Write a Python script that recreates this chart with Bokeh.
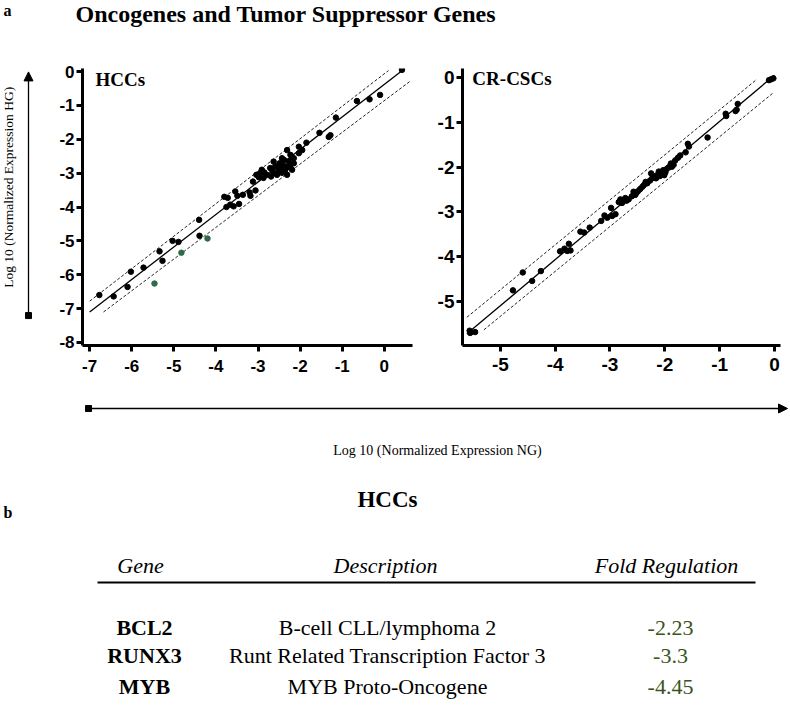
import math
from bokeh.plotting import figure
from bokeh.models import Range1d, FixedTicker, Arrow, NormalHead
from bokeh.layouts import column, row
from bokeh.embed import file_html
from bokeh.resources import INLINE
from bokeh.core.properties import value

# ---------------- data ----------------
# HCCs: log10 normalized expression, NG (x) vs HG (y)
hcc_ng = [-6.77, -6.43, -6.10, -6.02, -5.72, -5.34, -5.27, -5.03, -4.89, -4.40,
          -4.39, -3.80, -3.72, -3.75, -3.66, -3.58, -3.54, -3.49, -3.45, -3.36,
          -3.20, -3.18, -3.06, -3.12, -3.04, -2.98, -2.94, -2.91, -2.87, -2.79,
          -2.85, -2.69, -2.67, -2.63, -2.59, -2.55, -2.51, -2.49, -2.47, -2.43,
          -2.39, -2.38, -2.35, -2.31, -2.30, -2.27, -2.23, -2.19, -2.15, -2.43,
          -2.31, -2.23, -2.19, -2.15, -2.71, -2.63, -2.03, -1.95, -2.03, -1.85,
          -1.54, -1.32, -1.28, -1.15, -0.65, -0.35, -0.10, 0.42]
hcc_hg = [-6.60, -6.64, -6.36, -5.91, -5.79, -5.31, -5.59, -5.00, -5.03, -4.38,
          -4.85, -3.70, -3.73, -4.00, -3.93, -3.98, -3.54, -3.67, -3.91, -3.64,
          -3.57, -3.67, -3.51, -3.25, -3.05, -3.12, -2.99, -2.90, -3.14, -3.05,
          -2.98, -3.10, -2.90, -2.99, -2.80, -3.05, -2.90, -2.71, -2.85, -2.99,
          -2.78, -2.61, -2.90, -3.05, -2.82, -2.66, -2.76, -2.90, -2.71, -2.56,
          -2.32, -2.46, -2.53, -2.56, -2.85, -2.66, -2.22, -2.32, -2.41, -2.10,
          -1.81, -1.93, -1.88, -1.36, -0.87, -0.82, -0.69, 0.05]
# down-regulated genes highlighted in green
hcc_down_ng = [-5.46, -4.82, -4.20]
hcc_down_hg = [-6.26, -5.35, -4.93]
# identity line and fold-change boundaries
hcc_mid_x = [-7.00, 0.45]
hcc_mid_y = [-7.10, 0.05]
hcc_up_x = [-7.00, 0.10]
hcc_up_y = [-6.78, 0.03]
hcc_lo_x = [-6.67, 0.62]
hcc_lo_y = [-7.10, -0.28]

# CR-CSCs
csc_ng = [-5.56, -5.55, -5.46, -4.77, -4.59, -4.42, -4.26, -3.91, -3.83, -3.78,
          -3.75, -3.72, -3.54, -3.47, -3.37, -3.16, -3.10, -3.05, -2.98, -2.96,
          -2.90, -2.81, -2.78, -2.72, -2.66, -2.60, -2.54, -2.49, -2.45, -2.38,
          -2.32, -2.27, -2.23, -2.25, -2.19, -2.14, -2.11, -2.07, -2.03, -2.01,
          -1.97, -1.93, -1.89, -1.87, -1.81, -1.76, -1.72, -1.62, -1.58, -1.56,
          -1.22, -0.89, -0.88, -0.71, -0.69, -0.67, -0.10, -0.06, -0.02, -2.84,
          -2.70, -2.52, -2.41, -2.16, -2.09, -1.99, -1.84, -2.57, -2.35]
csc_hg = [-5.65, -5.70, -5.68, -4.75, -4.35, -4.54, -4.32, -3.88, -3.82, -3.87,
          -3.71, -3.86, -3.44, -3.46, -3.35, -3.20, -3.08, -3.13, -2.91, -3.09,
          -3.05, -2.72, -2.80, -2.69, -2.72, -2.65, -2.62, -2.54, -2.49, -2.40,
          -2.36, -2.30, -2.25, -2.14, -2.21, -2.18, -2.10, -2.14, -2.07, -2.18,
          -2.05, -2.01, -1.92, -1.99, -1.85, -1.79, -1.74, -1.67, -1.48, -1.54,
          -1.34, -0.81, -0.86, -0.75, -0.72, -0.59, -0.06, -0.04, -0.02, -2.78,
          -2.75, -2.58, -2.44, -2.25, -2.20, -2.12, -1.95, -2.55, -2.33]
csc_mid_x = [-5.61, 0.00]
csc_mid_y = [-5.72, 0.05]
csc_up_x = [-5.61, -0.32]
csc_up_y = [-5.35, -0.04]
csc_lo_x = [-5.30, -0.01]
csc_lo_y = [-5.63, -0.33]

hcc_xticks = [-7, -6, -5, -4, -3, -2, -1, 0]
hcc_yticks = [-8, -7, -6, -5, -4, -3, -2, -1, 0]
csc_xticks = [-5, -4, -3, -2, -1, 0]
csc_yticks = [-6, -5, -4, -3, -2, -1, 0]

# table
genes = ["BCL2", "RUNX3", "MYB"]
descriptions = ["B-cell CLL/lymphoma 2", "Runt Related Transcription Factor 3",
                "MYB Proto-Oncogene"]
fold_regulation = ["-2.23", "-3.3", "-4.45"]

SERIF = value("Liberation Serif")
W = 788


def canvas(w, h, x0, x1, ytop, ybot):
    c = figure(width=w, height=h, x_range=Range1d(x0, x1),
               y_range=Range1d(-ybot, -ytop), x_axis_type=None, y_axis_type=None,
               output_backend="svg", toolbar_location=None, min_border=0)
    c.outline_line_color = None
    c.grid.visible = False
    return c


def style_axes(p, fs, xstand, ystand, xt, yt):
    p.xaxis.ticker = FixedTicker(ticks=xt)
    p.yaxis.ticker = FixedTicker(ticks=yt)
    p.xaxis.major_label_overrides = {t: str(t) for t in xt}
    p.yaxis.major_label_overrides = {t: str(t) for t in yt}
    for ax in (p.xaxis[0], p.yaxis[0]):
        ax.axis_line_width = 3
        ax.axis_line_color = "black"
        ax.major_tick_line_width = 3
        ax.major_tick_line_color = "black"
        ax.major_tick_out = 6
        ax.major_tick_in = 0
        ax.minor_tick_line_color = None
        ax.major_label_text_font = "Liberation Sans"
        ax.major_label_text_font_style = "bold"
        ax.major_label_text_font_size = fs
        ax.major_label_text_color = "black"
    p.xaxis.major_label_standoff = xstand
    p.yaxis.major_label_standoff = ystand
    p.grid.visible = False
    p.outline_line_color = None


# ---------- title row ----------
title = canvas(W, 58, 0, W, 0, 58)
title.text(x=[3], y=[-10], text=["a"], text_font=SERIF, text_font_style="bold",
           text_font_size="16px", text_baseline="middle", text_align="left")
title.text(x=[75], y=[-13], text=["Oncogenes and Tumor Suppressor Genes"],
           text_font=SERIF, text_font_style="bold", text_font_size="24px",
           text_baseline="middle", text_align="left")

# ---------- y arrow strip ----------
strip = canvas(50, 324, 0, 50, 58, 382)
strip.text(x=[8], y=[-197], text=["Log 10 (Normalized Expression HG)"],
           angle=math.pi / 2, text_font=SERIF, text_font_size="13.5px",
           text_baseline="middle", text_align="center")
strip.add_layout(Arrow(x_start=28, y_start=-347, x_end=28, y_end=-62,
                       line_width=1.3, start=None,
                       end=NormalHead(size=9, fill_color="black", line_color="black")))
strip.scatter([28], [-347], marker="square", size=6, color="black")

# ---------- HCC scatter ----------
pl = figure(width=370, height=324, x_range=Range1d(-7.17, 0.67),
            y_range=Range1d(-8.09, 0.09), output_backend="svg", toolbar_location=None,
            min_border_left=32, min_border_right=8, min_border_top=10,
            min_border_bottom=35)
style_axes(pl, "17px", 8, 2, hcc_xticks, hcc_yticks)
pl.line(hcc_up_x, hcc_up_y, line_color="#222222", line_width=1, line_dash="3 2")
pl.line(hcc_lo_x, hcc_lo_y, line_color="#222222", line_width=1, line_dash="3 2")
pl.line(hcc_mid_x, hcc_mid_y, line_color="black", line_width=1.3)
pl.scatter(hcc_ng, hcc_hg, size=5.5, color="black")
pl.scatter(hcc_down_ng, hcc_down_hg, size=5.5, color="#2f6b47")
pl.text(x=[-6.86], y=[-0.23], text=["HCCs"], text_font=SERIF, text_font_style="bold",
        text_font_size="19px", text_baseline="middle", text_align="left")

# ---------- CR-CSC scatter ----------
pr = figure(width=W - 420, height=324, x_range=Range1d(-5.69, 0.11),
            y_range=Range1d(-5.98, 0.2), output_backend="svg", toolbar_location=None,
            min_border_left=42, min_border_right=W - 780, min_border_top=5,
            min_border_bottom=37)
style_axes(pr, "19px", 6, 2, csc_xticks, csc_yticks)
pr.line(csc_up_x, csc_up_y, line_color="#222222", line_width=1, line_dash="3 2")
pr.line(csc_lo_x, csc_lo_y, line_color="#222222", line_width=1, line_dash="3 2")
pr.line(csc_mid_x, csc_mid_y, line_color="black", line_width=1.3)
pr.scatter(csc_ng, csc_hg, size=5.5, color="black")
pr.text(x=[-5.51], y=[-0.015], text=["CR-CSCs"], text_font=SERIF,
        text_font_style="bold", text_font_size="19px", text_baseline="middle",
        text_align="left")

# ---------- x arrow ----------
xarr = canvas(W, 88, 0, W, 382, 470)
xarr.add_layout(Arrow(x_start=88, y_start=-408, x_end=W - 1, y_end=-408,
                      line_width=1.3, start=None,
                      end=NormalHead(size=9, fill_color="black", line_color="black")))
xarr.scatter([88], [-408], marker="square", size=6, color="black")
xarr.text(x=[437], y=[-450], text=["Log 10 (Normalized Expression NG)"],
          text_font=SERIF, text_font_size="14px", text_baseline="middle",
          text_align="center")

# ---------- table ----------
tab = canvas(W, 230, 0, W, 470, 700)
tab.text(x=[387], y=[-499], text=["HCCs"], text_font=SERIF, text_font_style="bold",
         text_font_size="23px", text_baseline="middle", text_align="center")
tab.text(x=[3], y=[-512], text=["b"], text_font=SERIF, text_font_style="bold",
         text_font_size="16px", text_baseline="middle", text_align="left")
tab.text(x=[140, 385, 666], y=[-565, -565, -565],
         text=["Gene", "Description", "Fold Regulation"], text_font=SERIF,
         text_font_style="italic", text_font_size="22px", text_baseline="middle",
         text_align="center")
tab.line([97, 755], [-582, -582], line_color="black", line_width=2.2)
row_y = [-627, -655, -686]
tab.text(x=[144] * 3, y=row_y, text=genes, text_font=SERIF, text_font_style="bold",
         text_font_size="22px", text_baseline="middle", text_align="center")
tab.text(x=[387] * 3, y=row_y, text=descriptions, text_font=SERIF,
         text_font_size="22px", text_baseline="middle", text_align="center")
tab.text(x=[670] * 3, y=row_y, text=fold_regulation, text_font=SERIF,
         text_font_size="22px", text_baseline="middle", text_align="center",
         text_color="#3b5323")

layout = column(title, row(strip, pl, pr, spacing=0), xarr, tab, spacing=0)
open("out.html", "w").write(file_html(layout, INLINE))
